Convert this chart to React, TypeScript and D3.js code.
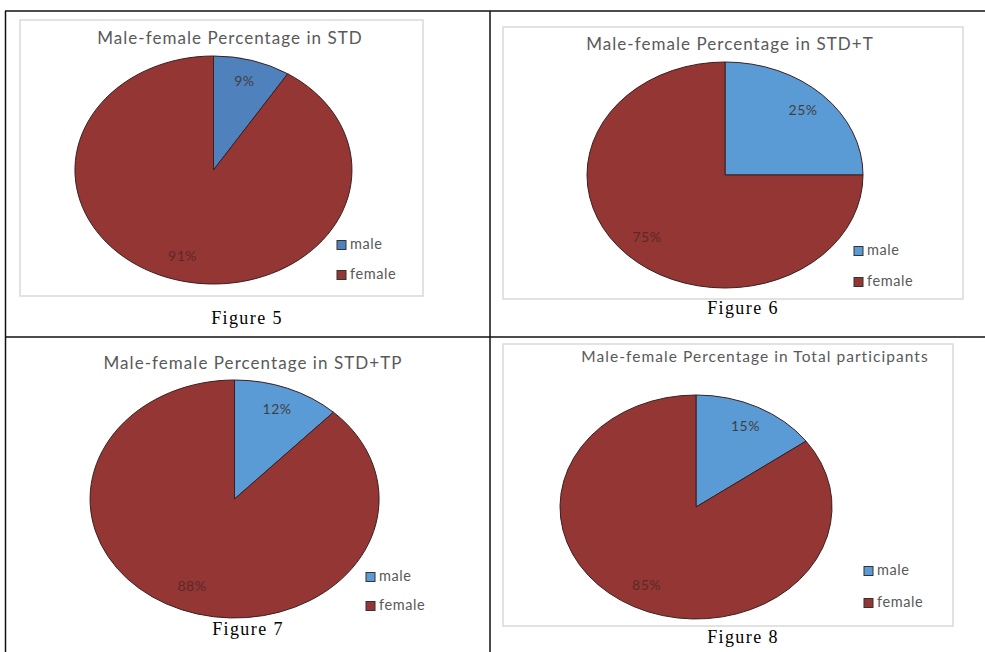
import React from "react";
import * as d3 from "d3";

const categories = ["male", "female"];
const titles = [
  "Male-female Percentage in STD",
  "Male-female Percentage in STD+T",
  "Male-female Percentage in STD+TP",
  "Male-female Percentage in Total participants",
];
const captions = ["Figure 5", "Figure 6", "Figure 7", "Figure 8"];
const maleValues = [9, 25, 12, 15];
const femaleValues = [91, 75, 88, 85];

const W = 985;
const H = 652;

// layout for each panel
const panels = [
  { cx: 213.5, cy: 170, rx: 138.5, ry: 114, box: [20, 20, 403, 276], tx: 230, ty: 44, tfs: 17,
    lx: 337, ly1: 245, ly2: 275, capx: 247, capy: 324, male: "#4f81bd" },
  { cx: 725, cy: 175, rx: 138, ry: 113, box: [503, 27, 460, 272], tx: 730, ty: 50, tfs: 17,
    lx: 854, ly1: 251, ly2: 282, capx: 743, capy: 314, male: "#5b9bd5" },
  { cx: 234.5, cy: 499, rx: 144.5, ry: 119, box: null, tx: 253, ty: 369, tfs: 17,
    lx: 366, ly1: 577, ly2: 606, capx: 248, capy: 635, male: "#5b9bd5" },
  { cx: 696, cy: 507, rx: 136, ry: 112, box: [503, 344, 450, 282], tx: 755, ty: 362, tfs: 15.5,
    lx: 864, ly1: 571, ly2: 603, capx: 743, capy: 643, male: "#5b9bd5" },
];

const FEMALE = "#943634";
const sans = "Lato, 'Open Sans', sans-serif";

export default function App() {
  const pie = d3.pie<number>().sort(null).value((d) => d);
  const arc = d3.arc<d3.PieArcDatum<number>>().innerRadius(0).outerRadius(1);
  const labelArc = d3.arc<d3.PieArcDatum<number>>().innerRadius(0.8).outerRadius(0.8);

  return (
    <svg width={W} height={H} style={{ position: "absolute", left: 0, top: 0, background: "#fff" }}>
      <rect x={0} y={0} width={W} height={H} fill="#fff" />
      {/* table lines */}
      <g stroke="#111" strokeWidth={1.5}>
        <line x1={5} y1={11} x2={W} y2={11} />
        <line x1={5} y1={337} x2={W} y2={337} />
        <line x1={5.5} y1={11} x2={5.5} y2={H} />
        <line x1={490} y1={11} x2={490} y2={H} />
      </g>
      {panels.map((p, i) => {
        const vals = [maleValues[i], femaleValues[i]];
        const arcs = pie(vals);
        const colors = [p.male, FEMALE];
        return (
          <g key={i}>
            {p.box && (
              <rect x={p.box[0]} y={p.box[1]} width={p.box[2]} height={p.box[3]} fill="#fff" stroke="#d9d9d9" strokeWidth={1.5} />
            )}
            <text x={p.tx} y={p.ty} textAnchor="middle" fontFamily={sans} fontSize={p.tfs} fill="#595959" letterSpacing={1.05}>
              {titles[i]}
            </text>
            <g transform={`translate(${p.cx},${p.cy}) scale(${p.rx},${p.ry})`}>
              {arcs.map((a, j) => (
                <path key={j} d={arc(a) || ""} fill={colors[j]} stroke="#3a2020" strokeWidth={1} vectorEffect="non-scaling-stroke" />
              ))}
            </g>
            {arcs.map((a, j) => {
              const [ux, uy] = labelArc.centroid(a);
              return (
                <text key={j} x={p.cx + ux * p.rx} y={p.cy + uy * p.ry} textAnchor="middle" dominantBaseline="middle"
                  fontFamily={sans} fontSize={14} letterSpacing={0.5} fill={j === 0 ? "#404040" : "#5a2a28"}>
                  {`${vals[j]}%`}
                </text>
              );
            })}
            {categories.map((c, j) => {
              const y = j === 0 ? p.ly1 : p.ly2;
              return (
                <g key={c}>
                  <rect x={p.lx} y={y - 4.5} width={9} height={9} fill={colors[j]} stroke="#333" strokeWidth={1} />
                  <text x={p.lx + 13} y={y} dominantBaseline="middle" fontFamily={sans} fontSize={14.5} letterSpacing={0.6} fill="#595959">
                    {c}
                  </text>
                </g>
              );
            })}
            <text x={p.capx} y={p.capy} textAnchor="middle" fontFamily="'Liberation Serif', 'Times New Roman', serif" fontSize={18} fill="#000" letterSpacing={1.4}>
              {captions[i]}
            </text>
          </g>
        );
      })}
    </svg>
  );
}
